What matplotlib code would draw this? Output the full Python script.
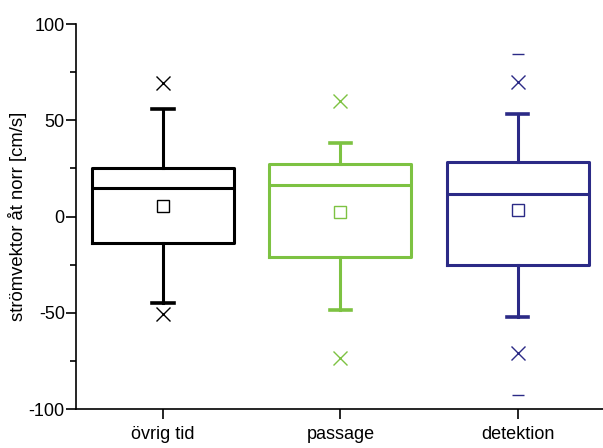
import matplotlib.pyplot as plt
import numpy as np

plt.rcParams['font.family'] = ['Liberation Sans', 'DejaVu Sans']

categories = ["övrig tid", "passage", "detektion"]
q1 = [-13.8, -21.1, -24.9]
median = [14.9, 16.5, 11.8]
q3 = [25.5, 27.4, 28.4]
whis_lo = [-45.0, -48.5, -52.3]
whis_hi = [56.1, 38.4, 53.4]
means = [5.6, 2.4, 3.5]
p_lo = [-50.5, -73.2, -71.0]   # X markers
p_hi = [69.3, 60.1, 70.1]
v_min = [None, None, -92.8]    # dash markers
v_max = [None, None, 84.4]
colors = ["#000000", "#7dc242", "#2b2a86"]

fig = plt.figure(figsize=(6.03, 4.48), dpi=100)
ax = fig.add_axes([0.126, 0.0864, 0.874, 0.86])

for i, cat in enumerate(categories):
    c = colors[i]
    stats = [dict(med=median[i], q1=q1[i], q3=q3[i], whislo=whis_lo[i],
                  whishi=whis_hi[i], mean=means[i], fliers=[], label=cat)]
    ax.bxp(stats, positions=[i + 1], widths=0.8, capwidths=0.12,
           showmeans=True, showfliers=False,
           boxprops=dict(color=c, linewidth=2.2),
           medianprops=dict(color=c, linewidth=2.2),
           whiskerprops=dict(color=c, linewidth=2.2),
           capprops=dict(color=c, linewidth=2.6),
           meanprops=dict(marker="s", markerfacecolor="none", markeredgecolor=c,
                          markersize=8, markeredgewidth=1.0))
    ax.plot([i + 1, i + 1], [p_lo[i], p_hi[i]], linestyle="none", marker="x",
            color=c, markersize=10, markeredgewidth=1.0)
    if v_min[i] is not None:
        ax.plot([i + 1, i + 1], [v_min[i], v_max[i]], linestyle="none", marker="_",
                color=c, markersize=9, markeredgewidth=1.0)

ax.set_xlim(0.51, 3.48)
ax.set_ylim(-100, 100)
ax.set_xticks([1, 2, 3])
ax.set_xticklabels(categories, fontsize=13)
ax.set_yticks([-100, -50, 0, 50, 100])
ax.set_yticklabels(["-100", "-50", "0", "50", "100"], fontsize=13)
ax.set_yticks([-75, -25, 25, 75], minor=True)
ax.tick_params(axis="y", which="major", direction="out", length=7, width=1.2, pad=1)
ax.tick_params(axis="y", which="minor", direction="out", length=4, width=1.2)
ax.tick_params(axis="x", which="major", direction="out", length=7, width=1.2, pad=5)
ax.set_ylabel("strömvektor åt norr [cm/s]", fontsize=13.3, labelpad=1)

for s in ["top", "right"]:
    ax.spines[s].set_visible(False)
for s in ["left", "bottom"]:
    ax.spines[s].set_linewidth(1.2)

fig.savefig("out.png", dpi=100)
